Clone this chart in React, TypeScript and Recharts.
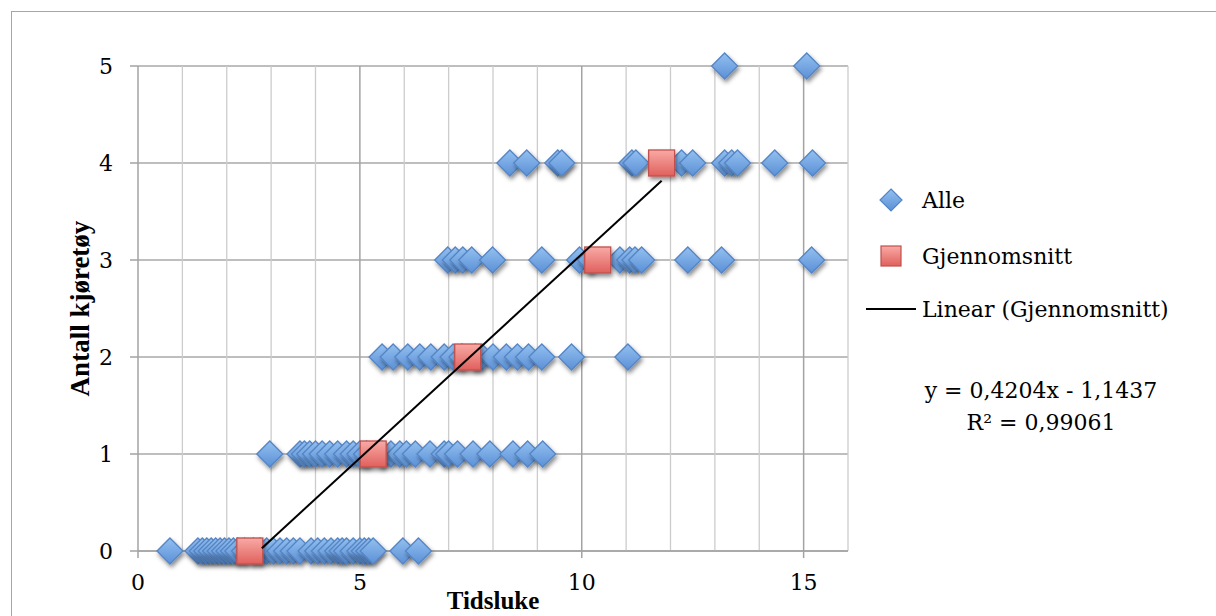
import React from 'react';
import {
  ScatterChart, Scatter, XAxis, YAxis, CartesianGrid, ReferenceLine, Label,
} from 'recharts';

// "Alle" observations, grouped by vehicle count (x = tidsluke)
const ALLE_Y0 = [
  0.72, 1.35, 1.45, 1.55, 1.65, 1.75, 1.85, 1.95, 2.05, 2.15, 2.25, 2.4, 2.6, 2.75, 2.9,
  3.05, 3.2, 3.35, 3.5, 3.65, 3.9, 4.05, 4.2, 4.35, 4.5, 4.6, 4.7, 4.85, 5.0, 5.1, 5.2, 5.3,
  5.97, 6.32,
];
const ALLE_Y1 = [
  2.97, 3.65, 3.75, 3.87, 4.0, 4.15, 4.32, 4.5, 4.7, 4.85, 5.0, 5.15, 5.5, 5.7, 5.9, 6.05,
  6.25, 6.58, 6.9, 7.0, 7.2, 7.55, 7.93, 8.45, 8.78, 9.12,
];
const ALLE_Y2 = [
  5.5, 5.75, 6.08, 6.35, 6.6, 6.9, 7.1, 7.3, 7.6, 7.75, 8.0, 8.3, 8.55, 8.8, 9.1, 9.77, 11.04,
];
const ALLE_Y3 = [
  6.98, 7.15, 7.32, 7.52, 7.99, 9.1, 9.95, 10.2, 10.86, 11.08, 11.2, 11.35, 12.39, 13.15, 15.18,
];
const ALLE_Y4 = [
  8.38, 8.76, 9.46, 9.55, 11.13, 11.22, 12.25, 12.5, 13.22, 13.38, 13.51, 14.35, 15.2,
];
const ALLE_Y5 = [13.22, 15.07];

// Gjennomsnitt (average per count)
const SNITT_X = [2.52, 5.3, 7.43, 10.36, 11.8];
const SNITT_Y = [0, 1, 2, 3, 4];

// Linear trendline endpoints (y = 0,4204x - 1,1437)
const TREND_X = [2.79, 11.8];
const TREND_Y = [0.029, 3.817];

const X_TICKS = [0, 5, 10, 15];
const Y_TICKS = [0, 1, 2, 3, 4, 5];
const GRID_X = [1, 2, 3, 4, 5, 6, 7, 8, 9, 10, 11, 12, 13, 14, 15, 16];
const MAJOR_X = [5, 10, 15];

const alle = [ALLE_Y0, ALLE_Y1, ALLE_Y2, ALLE_Y3, ALLE_Y4, ALLE_Y5].flatMap((xs, y) =>
  xs.map(x => ({ x, y })),
);
const snitt = SNITT_X.map((x, i) => ({ x, y: SNITT_Y[i] }));
const trend = TREND_X.map((x, i) => ({ x, y: TREND_Y[i] }));

const FONT = '"DejaVu Serif", serif';
const TITLE_FONT = '"Liberation Serif", serif';

const Diamond = ({ cx, cy }: any) => {
  const r = 13;
  return (
    <path
      d={`M${cx},${cy - r} L${cx + r},${cy} L${cx},${cy + r} L${cx - r},${cy} Z`}
      fill="url(#alleFill)"
      stroke="#5585c5"
      strokeWidth={1.3}
      filter="url(#markShadow)"
    />
  );
};

const Square = ({ cx, cy }: any) => {
  const h = 13;
  return (
    <rect
      x={cx - h}
      y={cy - h}
      width={h * 2}
      height={h * 2}
      fill="url(#snittFill)"
      stroke="#c0504d"
      strokeWidth={1.3}
      filter="url(#markShadow)"
    />
  );
};

const NoShape = () => <g />;

const YTitle = ({ viewBox }: any) => {
  const cy = viewBox.y + viewBox.height / 2;
  return (
    <text
      x={80}
      y={cy}
      transform={`rotate(-90, 80, ${cy})`}
      textAnchor="middle"
      dominantBaseline="central"
      fontFamily={TITLE_FONT}
      fontWeight="bold"
      fontSize={27}
      fill="#000"
    >
      Antall kjøretøy
    </text>
  );
};

const XTitle = ({ viewBox }: any) => (
  <text
    x={viewBox.x + viewBox.width / 2}
    y={609}
    textAnchor="middle"
    fontFamily={TITLE_FONT}
    fontWeight="bold"
    fontSize={25}
    fill="#000"
  >
    Tidsluke
  </text>
);

export default function App() {
  return (
    <div style={{ position: 'fixed', left: 0, top: 0, width: 1216, height: 616, background: '#fff', overflow: 'hidden' }}>
      <svg width={0} height={0} style={{ position: 'absolute' }}>
        <defs>
          <linearGradient id="alleFill" x1="0" y1="0" x2="0" y2="1">
            <stop offset="0%" stopColor="#93c0f0" />
            <stop offset="100%" stopColor="#5b90d6" />
          </linearGradient>
          <linearGradient id="snittFill" x1="0" y1="0" x2="0" y2="1">
            <stop offset="0%" stopColor="#f8aaa6" />
            <stop offset="100%" stopColor="#e0605c" />
          </linearGradient>
          <filter id="markShadow" x="-50%" y="-50%" width="200%" height="200%">
            <feDropShadow dx="1.5" dy="3" stdDeviation="2" floodColor="#000" floodOpacity="0.45" />
          </filter>
        </defs>
      </svg>

      <div
        style={{
          position: 'absolute', left: 11, top: 11, width: 1300, height: 700,
          borderLeft: '1.5px solid #a6a6a6', borderTop: '1.5px solid #a6a6a6',
        }}
      />

      <div style={{ position: 'absolute', left: 0, top: 0 }}>
        <ScatterChart width={1216} height={616} margin={{ top: 66, right: 368, bottom: 25, left: 38 }}>
          <CartesianGrid vertical={false} stroke="#a9a9a9" strokeWidth={1.5} />
          {GRID_X.map(g => (
            <ReferenceLine
              key={g}
              x={g}
              stroke={MAJOR_X.includes(g) ? '#a3a3a3' : '#cccccc'}
              strokeWidth={MAJOR_X.includes(g) ? 1.5 : 1.3}
            />
          ))}
          <XAxis
            type="number"
            dataKey="x"
            domain={[0, 16]}
            ticks={X_TICKS}
            height={40}
            tickSize={7}
            tickMargin={16}
            axisLine={{ stroke: '#a3a3a3', strokeWidth: 1.5 }}
            tickLine={{ stroke: '#a3a3a3', strokeWidth: 1.5 }}
            tick={{ fill: '#000', fontSize: 22, fontFamily: FONT }}
          >
            <Label content={XTitle} />
          </XAxis>
          <YAxis
            type="number"
            dataKey="y"
            domain={[0, 5]}
            ticks={Y_TICKS}
            width={100}
            tickSize={8}
            tickMargin={17}
            axisLine={{ stroke: '#a3a3a3', strokeWidth: 1.5 }}
            tickLine={{ stroke: '#a3a3a3', strokeWidth: 1.5 }}
            tick={{ fill: '#000', fontSize: 22, fontFamily: FONT }}
          >
            <Label content={YTitle} />
          </YAxis>
          <Scatter name="Alle" data={alle} shape={Diamond} isAnimationActive={false} />
          <Scatter name="Gjennomsnitt" data={snitt} shape={Square} isAnimationActive={false} />
          <Scatter
            name="Linear (Gjennomsnitt)"
            data={trend}
            shape={NoShape}
            line={{ stroke: '#000', strokeWidth: 2 }}
            isAnimationActive={false}
          />
        </ScatterChart>
      </div>

      <svg
        width={1216}
        height={616}
        style={{ position: 'absolute', left: 0, top: 0, pointerEvents: 'none' }}
        fontFamily={FONT}
        fontSize={22}
      >
        <path d="M891,189 L902,200 L891,211 L880,200 Z" fill="url(#alleFill)" stroke="#5585c5" strokeWidth={1.2} />
        <text x={922} y={200} dominantBaseline="central">Alle</text>
        <rect x={881} y={246} width={20} height={20} fill="url(#snittFill)" stroke="#c0504d" strokeWidth={1.2} />
        <text x={922} y={256} dominantBaseline="central">Gjennomsnitt</text>
        <line x1={866} y1={309} x2={916} y2={309} stroke="#000" strokeWidth={2} />
        <text x={922} y={309} dominantBaseline="central">Linear (Gjennomsnitt)</text>
        <text x={1041} y={398} textAnchor="middle">y = 0,4204x - 1,1437</text>
        <text x={1041} y={430} textAnchor="middle">R² = 0,99061</text>
      </svg>
    </div>
  );
}
